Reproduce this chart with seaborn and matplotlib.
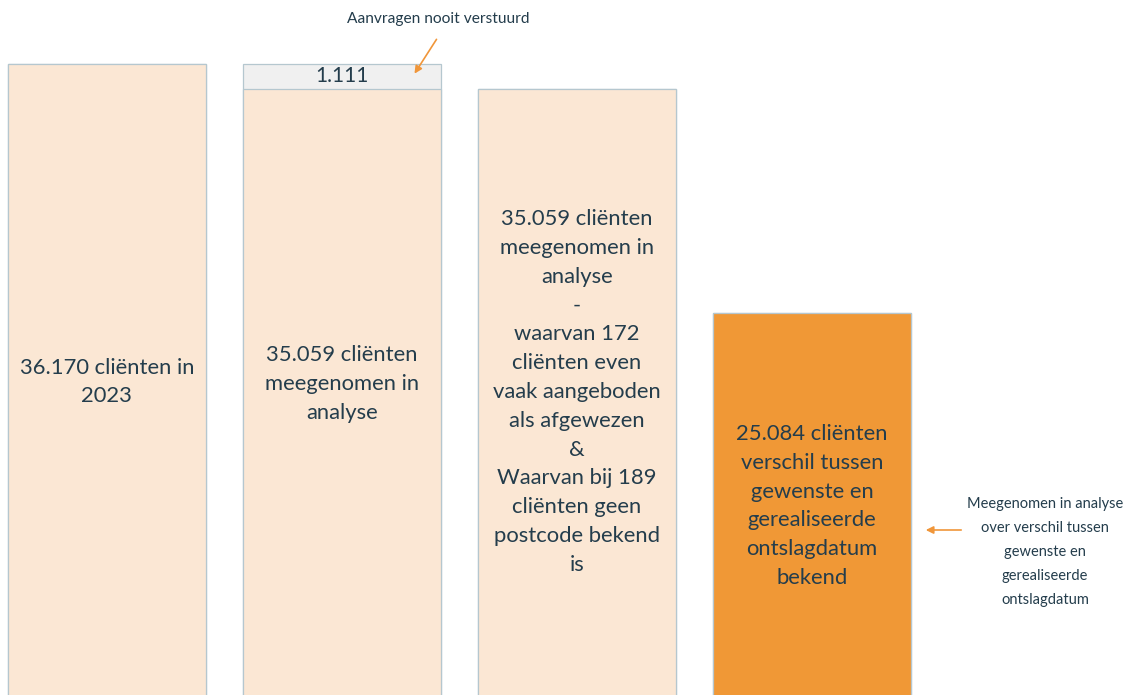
import matplotlib.pyplot as plt
import seaborn as sns
import pandas as pd

# values
categories = ['Cliënten 2023', 'Meegenomen', 'Analyse', 'Ontslagdatum bekend']
included = [36170, 35059, 35059, 25084]
not_sent = [0, 1111, 0, 0]

bar_texts = [
    '36.170 cliënten in\n2023',
    '35.059 cliënten\nmeegenomen in\nanalyse',
    '35.059 cliënten\nmeegenomen in\nanalyse\n-\nwaarvan 172\ncliënten even\nvaak aangeboden\nals afgewezen\n&\nWaarvan bij 189\ncliënten geen\npostcode bekend\nis',
    '25.084 cliënten\nverschil tussen\ngewenste en\ngerealiseerde\nontslagdatum\nbekend',
]
not_sent_label = '1.111'
note_top = 'Aanvragen nooit verstuurd'
note_right = 'Meegenomen in analyse\nover verschil tussen\ngewenste en\ngerealiseerde\nontslagdatum'

LIGHT = '#FBE7D4'
ORANGE = '#F09836'
GREY = '#F0F0F0'
EDGE = '#B5C7CF'
TEXT = '#243D4C'
ARROW = '#F0963A'

sns.set_style('white')
plt.rcParams['font.family'] = ['Lato', 'DejaVu Sans']

df = pd.DataFrame({'category': categories, 'included': included, 'not_sent': not_sent})
df['total'] = df['included'] + df['not_sent']

fig = plt.figure(figsize=(11.44, 6.95), dpi=100)
ax = fig.add_axes([0, 0, 1, 1])

# full height (stack top shows the grey part), then the included part over it
sns.barplot(data=df, x='category', y='total', hue='category', legend=False,
            palette=[LIGHT, GREY, LIGHT, ORANGE], width=0.843, saturation=1,
            edgecolor=EDGE, linewidth=0.9, ax=ax)
sns.barplot(data=df, x='category', y='included', hue='category', legend=False,
            palette=[LIGHT, LIGHT, LIGHT, ORANGE], width=0.843, saturation=1,
            edgecolor=EDGE, linewidth=0.9, ax=ax)

ax.set_xlim(-0.455, 4.413)
ax.set_ylim(8056, 39008)
ax.axis('off')

# texts inside the bars
text_y = [382, 384, 392, 506]
for i, (txt, py) in enumerate(zip(bar_texts, text_y)):
    ax.text(i, 1 - py / 695, txt, transform=ax.get_xaxis_transform(),
            ha='center', va='center', fontsize=15.8, color=TEXT, linespacing=1.55)

ax.text(1, (df.loc[1, 'included'] + df.loc[1, 'total']) / 2, not_sent_label,
        ha='center', va='center', fontsize=15, color=TEXT)

# annotations with orange arrows
ax.text(438 / 1144, 1 - 19 / 695, note_top, transform=ax.transAxes,
        ha='center', va='center', fontsize=11.2, color=TEXT)
ax.annotate('', xy=(413 / 1144, 1 - 76 / 695), xytext=(438 / 1144, 1 - 37 / 695),
            xycoords='axes fraction', textcoords='axes fraction',
            arrowprops=dict(arrowstyle='-|>', color=ARROW, lw=1.2, mutation_scale=11))

ax.text(1045 / 1144, 1 - 552 / 695, note_right, transform=ax.transAxes,
        ha='center', va='center', fontsize=10.5, color=TEXT, linespacing=1.93)
ax.annotate('', xy=(923 / 1144, 1 - 530 / 695), xytext=(964 / 1144, 1 - 530 / 695),
            xycoords='axes fraction', textcoords='axes fraction',
            arrowprops=dict(arrowstyle='-|>', color=ARROW, lw=1.2, mutation_scale=11))

fig.savefig('out.png', dpi=100)
